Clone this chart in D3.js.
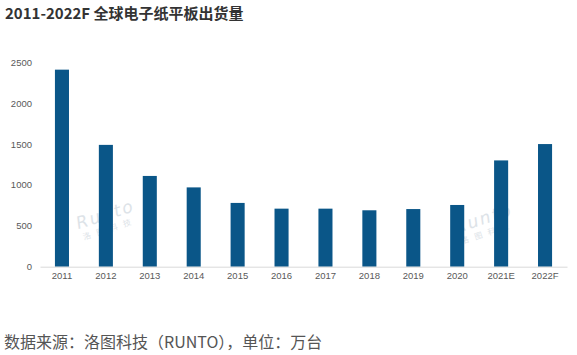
<!DOCTYPE html>
<html><head><meta charset="utf-8">
<script src="https://cdn.jsdelivr.net/npm/d3@7"></script>
<style>body{margin:0;background:#fff;}svg{display:block;}</style>
</head><body>
<script>
const categories = ["2011","2012","2013","2014","2015","2016","2017","2018","2019","2020","2021E","2022F"];
const values = [2410,1490,1110,970,780,710,710,690,705,755,1300,1500];
const yTicks = [0,500,1000,1500,2000,2500];
const title = "2011-2022F 全球电子纸平板出货量";
const source = "数据来源：洛图科技（RUNTO），单位：万台";

const W=577,H=355;
const svg=d3.select("body").append("svg").attr("width",W).attr("height",H);
const font="'Noto Sans CJK SC','Noto Sans',sans-serif";
const x=d3.scaleBand().domain(categories).range([40,567]).paddingInner(0.68).paddingOuter(0.34);
const y=d3.scaleLinear().domain([0,2500]).range([266.7,62.3]);

svg.append("text").attr("x",5).attr("y",19).attr("font-family",font).attr("font-weight","bold")
  .attr("font-size",15).attr("fill","#333").text(title);

// watermarks
[[107,220],[485,224]].forEach(([cx,cy])=>{
  const g=svg.append("g").attr("transform",`translate(${cx},${cy}) rotate(-18)`).attr("fill","#dde3e8");
  g.append("text").attr("text-anchor","middle").attr("font-family","'DejaVu Sans',sans-serif").attr("font-size",17).attr("font-style","italic").attr("letter-spacing",2).text("Runto");
  g.append("text").attr("text-anchor","middle").attr("y",12).attr("font-family",font).attr("font-size",8).attr("letter-spacing",6).text("洛图科技");
});

const ya=svg.append("g").attr("transform","translate(36,0)")
  .call(d3.axisLeft(y).tickValues(yTicks).tickFormat(d3.format("d")).tickSize(0).tickPadding(4));
ya.select(".domain").remove();
ya.selectAll("text").attr("font-family","'Liberation Sans',Arial,sans-serif").attr("font-size",9.5).attr("fill","#595959");

svg.selectAll("rect.bar").data(values).join("rect").attr("class","bar")
  .attr("x",(d,i)=>x(categories[i])).attr("width",x.bandwidth())
  .attr("y",d=>y(d)).attr("height",d=>y(0)-y(d)).attr("fill","#0a5688");

const xa=svg.append("g").attr("transform",`translate(0,${y(0)})`)
  .call(d3.axisBottom(x).tickSize(0).tickPadding(6));
xa.select(".domain").attr("stroke","#d9d9d9");
xa.selectAll("text").attr("font-family","'Liberation Sans',Arial,sans-serif").attr("font-size",9.5).attr("fill","#595959");

svg.append("text").attr("x",4).attr("y",348).attr("font-family",font)
  .attr("font-size",16).attr("fill","#555").text(source);
</script>
</body></html>
